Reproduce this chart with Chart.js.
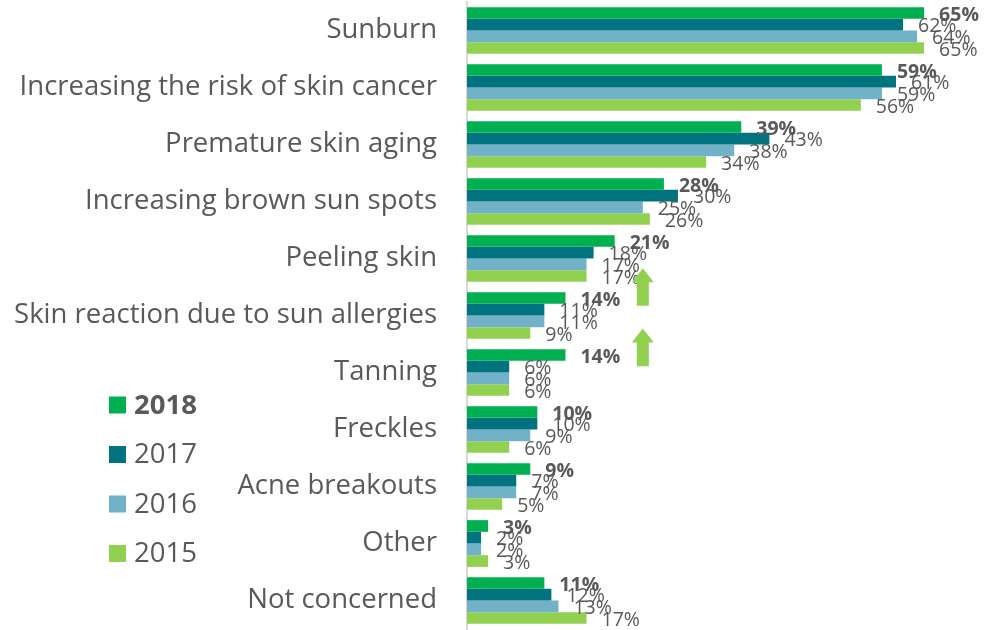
<!DOCTYPE html>
<html>
<head>
<meta charset="utf-8">
<script src="https://cdn.jsdelivr.net/npm/chart.js@4.4.1/dist/chart.umd.min.js"></script>
<style>
html,body{margin:0;padding:0;background:#fff;}
#wrap{position:relative;width:986px;height:630px;}
</style>
</head>
<body>
<div id="wrap"><canvas id="c" width="986" height="630"></canvas></div>
<script>
const categories = [
  "Sunburn",
  "Increasing the risk of skin cancer",
  "Premature skin aging",
  "Increasing brown sun spots",
  "Peeling skin",
  "Skin reaction due to sun allergies",
  "Tanning",
  "Freckles",
  "Acne breakouts",
  "Other",
  "Not concerned"
];
const seriesNames = ["2018", "2017", "2016", "2015"];
const values2018 = [65, 59, 39, 28, 21, 14, 14, 10, 9, 3, 11];
const values2017 = [62, 61, 43, 30, 18, 11, 6, 10, 7, 2, 12];
const values2016 = [64, 59, 38, 25, 17, 11, 6, 9, 7, 2, 13];
const values2015 = [65, 56, 34, 26, 17, 9, 6, 6, 5, 3, 17];
const seriesColors = ["#00B050", "#00737F", "#71B2C9", "#92D050"];
// arrows: [value position, category start, category end]
const arrowMarks = [[25, 4.17, 4.83], [25, 5.23, 5.89]];

const FONT = "'Open Sans', 'Liberation Sans', sans-serif";
const TEXT = "#595959";

const allValues = [values2018, values2017, values2016, values2015];

const labelPlugin = {
  id: 'valueLabels',
  afterDatasetsDraw(chart) {
    const ctx = chart.ctx;
    ctx.save();
    chart.data.datasets.forEach((ds, di) => {
      const meta = chart.getDatasetMeta(di);
      meta.data.forEach((bar, i) => {
        ctx.font = (di === 0 ? "bold " : "") + "19.5px " + FONT;
        ctx.fillStyle = TEXT;
        ctx.textAlign = "left";
        ctx.textBaseline = "middle";
        ctx.fillText(ds.data[i] + "%", bar.x + 15, bar.y + 2);
      });
    });
    ctx.restore();
  }
};

const arrowPlugin = {
  id: 'arrows',
  afterDatasetsDraw(chart) {
    const ctx = chart.ctx;
    const xs = chart.scales.x, ys = chart.scales.y;
    ctx.save();
    ctx.fillStyle = "#92D050";
    arrowMarks.forEach(a => {
      const cx = xs.getPixelForValue(a[0]);
      const top = ys.getPixelForValue(a[1]);
      const bot = ys.getPixelForValue(a[2]);
      const headH = 14, headW = 11, shaftW = 6;
      ctx.beginPath();
      ctx.moveTo(cx, top);
      ctx.lineTo(cx + headW, top + headH);
      ctx.lineTo(cx + shaftW, top + headH);
      ctx.lineTo(cx + shaftW, bot);
      ctx.lineTo(cx - shaftW, bot);
      ctx.lineTo(cx - shaftW, top + headH);
      ctx.lineTo(cx - headW, top + headH);
      ctx.closePath();
      ctx.fill();
    });
    ctx.restore();
  }
};

const legendPlugin = {
  id: 'sideLegend',
  afterDraw(chart) {
    const ctx = chart.ctx;
    ctx.save();
    const x0 = 109, y0 = 405, step = 49.5;
    chart.data.datasets.forEach((ds, i) => {
      const y = y0 + i * step;
      ctx.fillStyle = ds.backgroundColor;
      ctx.fillRect(x0, y - 8.5, 17, 17);
      ctx.fillStyle = TEXT;
      ctx.font = (i === 0 ? "bold " : "") + "27.5px " + FONT;
      ctx.textAlign = "left";
      ctx.textBaseline = "middle";
      ctx.fillText(ds.label, 134, y + 1);
    });
    ctx.restore();
  }
};

new Chart(document.getElementById('c'), {
  type: 'bar',
  data: {
    labels: categories,
    datasets: seriesNames.map((n, i) => ({
      label: n,
      data: allValues[i],
      backgroundColor: seriesColors[i],
      borderWidth: 0,
      categoryPercentage: 0.82,
      barPercentage: 1.0
    }))
  },
  options: {
    indexAxis: 'y',
    responsive: false,
    animation: false,
    devicePixelRatio: 1,
    layout: { padding: { top: 2, bottom: 1, right: 0, left: 0 } },
    plugins: { legend: { display: false }, tooltip: { enabled: false } },
    scales: {
      x: { display: false, min: 0, max: 73.8 },
      y: {
        afterFit(scale) { scale.width = 467; scale.paddingTop = 0; scale.paddingBottom = 0; },
        grid: { display: false, drawTicks: false },
        border: { display: true, color: "#D9D9D9", width: 2 },
        ticks: {
          color: TEXT,
          padding: 30,
          font: { family: FONT, size: 27.5 }
        }
      }
    }
  },
  plugins: [labelPlugin, arrowPlugin, legendPlugin]
});
</script>
</body>
</html>
